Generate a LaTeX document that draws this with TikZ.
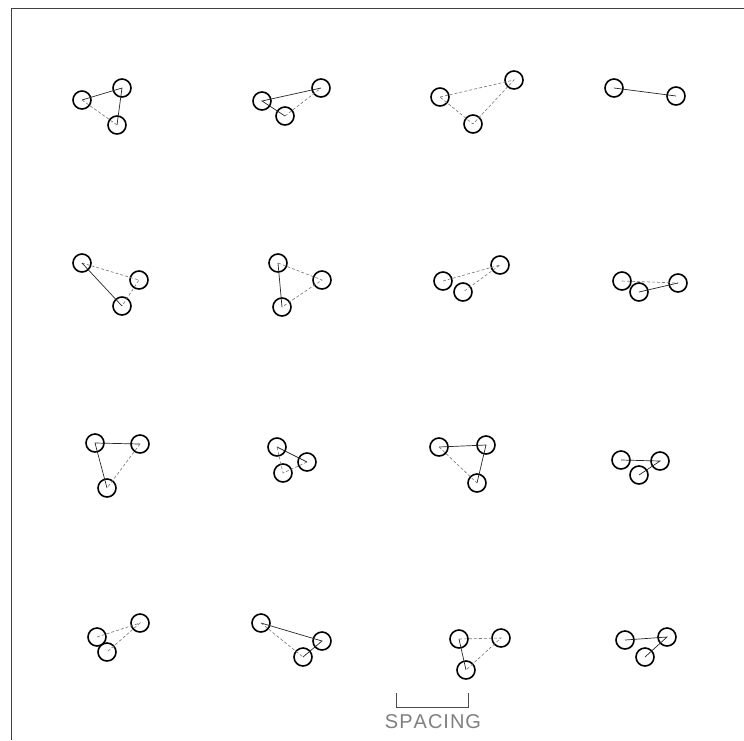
\documentclass[tikz,border=0pt]{standalone}
\usepackage{fontspec}
\setsansfont{Liberation Sans}
\begin{document}
\begin{tikzpicture}[x=1pt,y=-1pt,
  atom/.style={circle,draw=black,line width=1.6pt,minimum size=18pt,inner sep=0pt},
  bond/.style={line width=0.7pt,draw=black!85},
  weak/.style={line width=0.6pt,draw=black!55,dash pattern=on 3pt off 2pt},
  frameline/.style={line width=0.7pt,draw=black!75}]
\useasboundingbox (0,0) rectangle (744,740);
\coordinate (f1) at (744,8);
\coordinate (f2) at (11,8);
\coordinate (f3) at (11,740);
\draw[frameline] (f1) -- (f2) -- (f3);
% row 1
\node[atom] (a1) at (82,100) {};
\node[atom] (b1) at (122,88) {};
\node[atom] (c1) at (117,125) {};
\draw[bond] (a1.center) -- (b1.center) -- (c1.center);
\draw[weak] (a1.center) -- (c1.center);
\node[atom] (a2) at (262,101) {};
\node[atom] (b2) at (321,88) {};
\node[atom] (c2) at (285,116) {};
\draw[bond] (b2.center) -- (a2.center) -- (c2.center);
\draw[weak] (c2.center) -- (b2.center);
\node[atom] (a3) at (440,97) {};
\node[atom] (b3) at (514,80) {};
\node[atom] (c3) at (473,124) {};
\draw[weak] (a3.center) -- (b3.center) -- (c3.center) -- (a3.center);
\node[atom] (a4) at (614,88) {};
\node[atom] (b4) at (676,96) {};
\draw[bond] (a4.center) -- (b4.center);
% row 2
\node[atom] (a5) at (82,263) {};
\node[atom] (b5) at (139,280) {};
\node[atom] (c5) at (122,306) {};
\draw[weak] (a5.center) -- (b5.center) -- (c5.center);
\draw[bond] (a5.center) -- (c5.center);
\node[atom] (a6) at (278,263) {};
\node[atom] (b6) at (322,280) {};
\node[atom] (c6) at (282,307) {};
\draw[bond] (a6.center) -- (c6.center);
\draw[weak] (a6.center) -- (b6.center) -- (c6.center);
\node[atom] (a7) at (443,281) {};
\node[atom] (b7) at (500,265) {};
\node[atom] (c7) at (463,292) {};
\draw[weak] (a7.center) -- (b7.center) -- (c7.center);
\node[atom] (a8) at (622,281) {};
\node[atom] (b8) at (678,283) {};
\node[atom] (c8) at (639,292) {};
\draw[weak] (a8.center) -- (b8.center);
\draw[bond] (c8.center) -- (b8.center);
% row 3
\node[atom] (a9) at (95,443) {};
\node[atom] (b9) at (140,444) {};
\node[atom] (c9) at (107,488) {};
\draw[bond] (b9.center) -- (a9.center) -- (c9.center);
\draw[weak] (b9.center) -- (c9.center);
\node[atom] (a10) at (277,447) {};
\node[atom] (b10) at (307,462) {};
\node[atom] (c10) at (283,473) {};
\draw[bond] (a10.center) -- (b10.center);
\draw[weak] (a10.center) -- (c10.center) -- (b10.center);
\node[atom] (a11) at (439,447) {};
\node[atom] (b11) at (486,445) {};
\node[atom] (c11) at (477,483) {};
\draw[bond] (a11.center) -- (b11.center) -- (c11.center);
\draw[weak] (a11.center) -- (c11.center);
\node[atom] (a12) at (621,460) {};
\node[atom] (b12) at (660,461) {};
\node[atom] (c12) at (639,475) {};
\draw[bond] (a12.center) -- (b12.center) -- (c12.center);
% row 4
\node[atom] (a13) at (97,637) {};
\node[atom] (b13) at (140,623) {};
\node[atom] (c13) at (107,652) {};
\draw[weak] (a13.center) -- (b13.center) -- (c13.center);
\node[atom] (a14) at (261,623) {};
\node[atom] (b14) at (322,641) {};
\node[atom] (c14) at (303,657) {};
\draw[bond] (a14.center) -- (b14.center) -- (c14.center);
\draw[weak] (a14.center) -- (c14.center);
\node[atom] (a15) at (459,639) {};
\node[atom] (b15) at (501,638) {};
\node[atom] (c15) at (466,670) {};
\draw[bond] (a15.center) -- (c15.center);
\draw[weak] (a15.center) -- (b15.center) -- (c15.center);
\node[atom] (a16) at (625,640) {};
\node[atom] (b16) at (667,637) {};
\node[atom] (c16) at (645,657) {};
\draw[bond] (a16.center) -- (b16.center) -- (c16.center);
% spacing bracket
\coordinate (s1) at (396,693);
\coordinate (s2) at (396,707);
\coordinate (s3) at (468,707);
\coordinate (s4) at (468,693);
\draw[line width=0.7pt,draw=black!70] (s1) -- (s2) -- (s3) -- (s4);
\node[font=\sffamily\fontsize{20}{20}\selectfont,text=black!50,inner sep=0pt] (sp) at (433,722) {S\kern1ptP\kern1ptA\kern1ptC\kern1ptI\kern1ptN\kern1ptG};
\end{tikzpicture}
\end{document}
